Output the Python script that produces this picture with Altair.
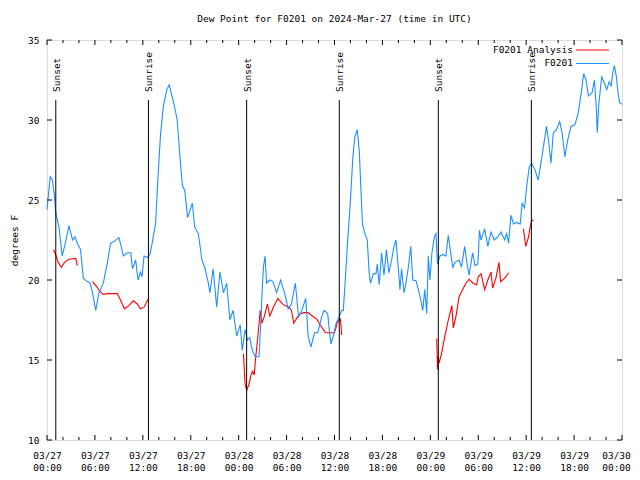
import altair as alt
import pandas as pd

base = pd.Timestamp("2024-03-27T00:00:00Z")

# F0201 observed dew point (hours since 03/27 00:00 UTC, degrees F)
blue_hours = [0.0, 0.4, 0.67, 0.9, 1.1, 1.5, 1.9, 2.3, 2.75, 3.2, 3.5, 3.8, 4.2, 4.55, 5.05, 5.4, 5.7, 6.1, 6.5,
              7.05, 7.55, 7.97, 8.4, 9.0, 9.3, 9.55, 10.05, 10.5, 10.7, 11.1, 11.4, 11.7, 11.9, 12.15, 12.55, 12.9,
              13.2, 13.6, 13.9, 14.2, 14.55, 15.0, 15.3, 15.9, 16.3, 16.65, 16.95, 17.25, 17.6, 18.0, 18.2, 18.5,
              18.95, 19.4, 19.8, 20.2, 20.4, 20.8, 21.25, 21.65, 22.1, 22.5, 22.9, 23.3, 23.75, 24.2, 24.45, 24.8,
              25.1, 25.4, 25.6, 25.8, 26.1, 26.55, 26.8, 26.95, 27.1, 27.3, 27.5, 27.9, 28.3, 28.75, 29.25, 29.8,
              30.2, 30.6, 31.1, 31.5, 31.9, 32.4, 32.7, 33.05, 33.5, 33.9, 34.4, 34.7, 35.15, 35.3, 35.55, 35.85,
              36.2, 36.6, 36.9, 37.1, 37.3, 37.6, 37.95, 38.3, 38.55, 38.85, 39.1, 39.3, 39.5, 39.8, 40.1, 40.35,
              40.5, 40.86, 41.2, 41.36, 41.6, 41.9, 42.2, 42.5, 42.8, 43.15, 43.45, 43.7, 43.98, 44.2, 44.4, 44.7,
              44.95, 45.25, 45.55, 45.8, 46.2, 46.5, 46.8, 47.05, 47.3, 47.55, 47.75, 47.95, 48.2, 48.5, 48.7, 48.9,
              49.2, 49.6, 49.95, 50.25, 50.55, 50.8, 51.1, 51.6, 51.9, 52.3, 52.6, 52.85, 53.3, 53.6, 53.95, 54.15,
              54.35, 54.8, 55.2, 55.6, 56.0, 56.45, 56.85, 57.3, 57.55, 57.8, 58.1, 58.4, 58.8, 59.25, 59.5, 59.8,
              60.1, 60.4, 60.7, 61.1, 61.5, 61.85, 62.15, 62.55, 62.85, 63.1, 63.4, 63.8, 64.2, 64.5, 64.85, 65.2,
              65.6, 66.1, 66.5, 66.9, 67.2, 67.5, 67.8, 68.25, 68.55, 68.8, 68.9, 69.1, 69.45, 69.8, 70.1, 70.4,
              70.65, 70.85, 71.05, 71.3, 71.5, 71.7, 71.9, 72.0]
blue_values = [24.4, 26.46, 26.25, 25.4, 24.2, 23.3, 21.5, 22.3, 23.4, 22.5, 22.7, 22.3, 21.9, 20.1, 19.9, 19.8, 19.2,
               18.1, 19.2, 19.8, 21.06, 22.3, 22.4, 22.65, 22.1, 21.5, 21.7, 21.7, 20.7, 21.25, 20.0, 20.5, 20.2,
               21.5, 21.4, 21.6, 22.4, 23.56, 26.46, 28.96, 30.8, 31.9, 32.2, 31.0, 30.0, 27.7, 25.9, 25.6, 23.9,
               24.5, 24.8, 23.3, 22.9, 21.25, 20.7, 19.8, 19.2, 20.7, 18.3, 20.5, 19.2, 19.8, 17.5, 18.1, 16.5, 17.2,
               15.6, 16.9, 16.25, 16.4, 15.8, 15.5, 15.2, 15.2, 17.7, 19.4, 20.8, 21.5, 19.8, 20.0, 19.9, 19.2, 20.0,
               19.1, 18.2, 18.5, 19.8, 17.7, 18.1, 18.85, 16.5, 15.8, 16.7, 16.7, 17.7, 18.1, 17.9, 17.1, 16.0, 16.5,
               17.3, 17.7, 18.1, 18.1, 19.6, 22.1, 24.6, 27.7, 28.96, 29.4, 28.1, 25.8, 23.5, 22.9, 22.5, 20.4, 19.8,
               20.4, 20.4, 21.0, 19.7, 21.7, 20.3, 21.9, 20.45, 21.25, 22.1, 22.5, 20.8, 19.4, 20.7, 19.2, 19.8, 20.8,
               22.1, 20.0, 19.96, 19.4, 18.75, 18.1, 19.4, 17.9, 21.5, 20.0, 21.7, 22.7, 22.9, 21.0, 21.5, 21.6, 21.5,
               22.8, 21.7, 20.8, 21.1, 21.25, 20.8, 22.1, 21.0, 20.3, 21.7, 20.9, 21.0, 23.1, 22.5, 23.2, 22.1, 23.0,
               22.5, 22.7, 23.0, 22.5, 22.9, 22.3, 24.06, 23.5, 23.6, 23.5, 24.8, 24.5, 26.0, 27.1, 27.3, 26.9, 26.25,
               27.3, 28.3, 29.6, 28.5, 27.3, 29.2, 29.4, 29.9, 29.2, 27.7, 28.75, 29.6, 29.7, 30.4, 31.7, 32.9, 32.5,
               31.5, 31.7, 32.5, 30.6, 29.2, 31.0, 32.7, 32.3, 31.9, 32.4, 32.1, 33.0, 33.4, 32.7, 31.7, 31.1, 31.0,
               31.0]

# F0201 Analysis (broken into segments)
red_hours = [0.8, 1.1, 1.4, 1.8, 2.2, 2.75, 3.2, 3.6, 3.8,
             5.7, 6.2, 6.6, 7.05, 7.55, 8.8, 9.2, 9.7, 10.25, 10.8, 11.3, 11.7, 12.15, 12.55, 12.8,
             24.6, 24.8, 25.0, 25.3, 25.55, 25.75, 25.95, 26.1, 26.4, 26.7, 26.9, 27.2, 27.6, 27.9, 28.35, 28.9,
             29.4, 29.8, 30.3, 30.6, 30.9, 31.25, 31.7, 32.2, 32.7, 33.35, 33.8, 34.2, 34.6, 34.9, 36.0, 36.35,
             36.6, 36.75, 36.9,
             48.8, 48.9, 49.0, 49.1, 49.4, 49.8, 50.25, 50.55, 50.7, 50.87, 51.2, 51.6, 52.05, 52.45, 52.85, 53.35,
             53.8, 54.0, 54.35, 54.8, 55.2, 55.6, 55.8, 56.2, 56.6, 56.8, 57.3, 57.8,
             59.65, 59.95, 60.3, 60.5, 60.7, 60.9]
red_values = [21.9, 21.56, 21.1, 20.8, 21.1, 21.3, 21.33, 21.35, 20.9,
              19.9, 19.6, 19.3, 19.1, 19.15, 19.15, 18.75, 18.2, 18.4, 18.7, 18.5, 18.2, 18.3, 18.7, 18.85,
              15.4, 13.5, 13.1, 13.5, 14.06, 14.3, 14.06, 15.0, 16.45, 18.1, 17.3, 17.7, 18.5, 17.75, 18.3, 18.85,
              18.55, 18.4, 18.3, 18.1, 17.3, 17.6, 17.9, 17.96, 17.96, 17.7, 17.54, 17.2, 16.9, 16.7, 16.7, 17.3,
              17.5, 17.56, 16.56,
              16.35, 14.4, 15.2, 14.8, 15.4, 16.45, 17.5, 18.1, 18.4, 17.0, 17.7, 18.96, 19.4, 19.8, 20.04, 19.8,
              19.7, 20.2, 20.4, 19.4, 20.0, 20.5, 19.5, 20.1, 21.1, 19.9, 20.1, 20.45,
              23.2, 22.1, 22.7, 23.3, 23.75, 23.7]
red_segments = [1] * 9 + [2] * 15 + [3] * 35 + [4] * 28 + [5] * 6

sun_hours = [1.1, 12.7, 25.0, 36.6, 49.0, 60.65]
sun_labels = ["Sunset", "Sunrise", "Sunset", "Sunrise", "Sunset", "Sunrise"]

series_names = ["F0201 Analysis", "F0201"]
series_colors = ["#ff0000", "#1e90ff"]

y_ticks = [10, 15, 20, 25, 30, 35]
x_major_hours = list(range(0, 73, 6))
x_minor_hours = [h for h in range(0, 73, 2) if h % 6]

FONT = "DejaVu Sans Mono"
FS = 9.5
W, H = 575, 400


def iso(hours):
    return [(base + pd.Timedelta(hours=h)).strftime("%Y-%m-%dT%H:%M:%SZ") for h in hours]


def ms(hours):
    return [int((base + pd.Timedelta(hours=h)).value // 10**6) for h in hours]


blue_df = pd.DataFrame({"time": iso(blue_hours), "value": blue_values})
red_df = pd.DataFrame({"time": iso(red_hours), "value": red_values, "seg": red_segments})
sun_df = pd.DataFrame({"time": iso(sun_hours), "label": sun_labels})
xmaj_df = pd.DataFrame({"time": iso(x_major_hours)})
xmin_df = pd.DataFrame({"time": iso(x_minor_hours)})
yt_df = pd.DataFrame({"value": y_ticks})

last_ms = ms([72])[0]
x_scale = alt.Scale(type="utc", domain=ms([0, 72]), nice=False)
x_axis = alt.Axis(values=ms(x_major_hours),
                  labelExpr="[utcFormat(datum.value, '%m/%d'), utcFormat(datum.value, '%H:%M')]",
                  title=None, grid=False, ticks=False, tickSize=0, domain=False, labelPadding=10,
                  labelLineHeight=12, labelAngle=0, labelFlush=False, labelOverlap=False,
                  labelOffset={"condition": {"test": "datum.value >= %d" % last_ms, "value": -6}, "value": 0},
                  labelFont=FONT, labelFontSize=FS, labelColor="black")
y_scale = alt.Scale(domain=[10, 35], nice=False, zero=False)
y_axis = alt.Axis(values=y_ticks, title="degrees F", grid=False, ticks=False, tickSize=0, domain=False,
                  labelPadding=8, titlePadding=8, labelFont=FONT, labelFontSize=FS, titleFont=FONT,
                  titleFontSize=FS, titleFontWeight="normal", labelColor="black", titleColor="black")


def X():
    return alt.X("time:T", scale=x_scale, axis=x_axis)


def Y():
    return alt.Y("value:Q", scale=y_scale, axis=y_axis)


red_line = alt.Chart(red_df).mark_line(color=series_colors[0], strokeWidth=1.1).encode(
    x=X(), y=Y(), detail="seg:N")
blue_line = alt.Chart(blue_df).mark_line(color=series_colors[1], strokeWidth=1.1).encode(x=X(), y=Y())

sun_rule = alt.Chart(sun_df).mark_rule(color="black", strokeWidth=1).encode(
    x=X(), y=alt.value(60), y2=alt.value(H))
sun_text = alt.Chart(sun_df).mark_text(angle=270, align="left", baseline="middle", font=FONT,
                                       fontSize=FS, color="black", xOffset=1).encode(
    x=X(), y=alt.value(52), text="label:N")

xmaj_bot = alt.Chart(xmaj_df).mark_rule(color="black").encode(x=X(), y=alt.value(H), y2=alt.value(H - 5))
xmaj_top = alt.Chart(xmaj_df).mark_rule(color="black").encode(x=X(), y=alt.value(0), y2=alt.value(5))
xmin_bot = alt.Chart(xmin_df).mark_rule(color="black").encode(x=X(), y=alt.value(H), y2=alt.value(H - 3))
xmin_top = alt.Chart(xmin_df).mark_rule(color="black").encode(x=X(), y=alt.value(0), y2=alt.value(3))
yt_left = alt.Chart(yt_df).mark_rule(color="black").encode(y=Y(), x=alt.value(0), x2=alt.value(5))
yt_right = alt.Chart(yt_df).mark_rule(color="black").encode(y=Y(), x=alt.value(W), x2=alt.value(W - 5))

legend_layers = []
for i, (name, col) in enumerate(zip(series_names, series_colors)):
    ty = 9.5 + i * 13.5
    legend_layers.append(
        alt.Chart(pd.DataFrame({"name": [name]})).mark_text(
            align="right", baseline="middle", font=FONT, fontSize=FS, color="black").encode(
            text="name:N", x=alt.value(526), y=alt.value(ty)))
    legend_layers.append(
        alt.Chart(pd.DataFrame({"name": [name]})).mark_rule(color=col, strokeWidth=1).encode(
            x=alt.value(529), x2=alt.value(562), y=alt.value(ty + 0.5)))

chart = alt.layer(
    red_line, blue_line, sun_rule, sun_text,
    xmaj_bot, xmaj_top, xmin_bot, xmin_top, yt_left, yt_right,
    *legend_layers
).properties(
    width=W, height=H,
    title=alt.TitleParams("Dew Point for F0201 on 2024-Mar-27 (time in UTC)", font=FONT, fontSize=FS,
                          fontWeight="normal", anchor="middle", frame="group", offset=12, color="black"),
    autosize=alt.AutoSizeParams(type="none"),
    padding={"left": 39, "top": 32, "right": 10, "bottom": 32},
).configure_view(stroke="black", strokeWidth=1).configure(background="white")

chart.save("out.html", embed_options={"renderer": "svg", "actions": False})
